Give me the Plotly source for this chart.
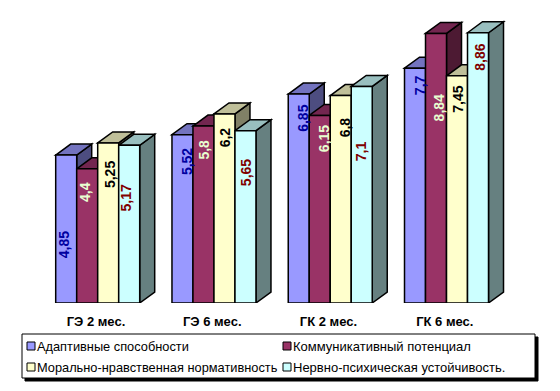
import plotly.graph_objects as go

categories = ["ГЭ 2 мес.", "ГЭ 6 мес.", "ГК 2 мес.", "ГК 6 мес."]
series_names = ["Адаптивные способности", "Коммуникативный потенциал",
                "Морально-нравственная нормативность", "Нервно-психическая устойчивость."]
adaptive = [4.85, 5.52, 6.85, 7.7]
communicative = [4.4, 5.8, 6.15, 8.84]
moral = [5.25, 6.2, 6.8, 7.45]
nervous = [5.17, 5.65, 7.1, 8.86]
label_text = [["4,85", "5,52", "6,85", "7,7"], ["4,4", "5,8", "6,15", "8,84"],
              ["5,25", "6,2", "6,8", "7,45"], ["5,17", "5,65", "7,1", "8,86"]]

series = [adaptive, communicative, moral, nervous]
front = ["#9999FF", "#993366", "#FFFFCC", "#CCFFFF"]
top = ["#7373BF", "#732650", "#BFBF99", "#99BFBF"]
side = ["#4D4D80", "#4D1A33", "#808066", "#668080"]
label_color = ["#0000A0", "#E8FFD0", "#000000", "#800000"]
# Hand-placed label offsets from the bar top centre (px), as in the original
label_drop = [[90, 27, 24, 17], [23, 23, 23, 75], [32, 23, 32, 24], [53, 42, 65, 25]]
label_nudge = [[-2, 4, 4, 5], [-2, 1, 5, 3], [2, 0, 4, 1], [-3, 0, 0, 2]]

W, H = 560, 391
L, R, T, BASE = 40, 520, 10, 303
PX_PER_UNIT = 30.5
PERIOD = 116.27
C0 = 97.7
BAR_PX = 21.0
DX_PX, DY_PX = 15.0, 11.0

x0 = (L - C0) / PERIOD
x1 = (R - C0) / PERIOD
y1 = (BASE - T) / PX_PER_UNIT
dx = DX_PX / PERIOD
dy = DY_PX / PX_PER_UNIT
bw = BAR_PX / PERIOD


def px(x):
    return (x - L) / (R - L)


def py(y):
    return (BASE - y) / (BASE - T)


fig = go.Figure()
shapes = []
annotations = []
for s, vals in enumerate(series):
    fig.add_trace(go.Bar(x=list(range(4)), y=vals, name=series_names[s],
                         marker=dict(color=front[s], line=dict(color="black", width=1.5)),
                         showlegend=False, hoverinfo="skip"))
    for i, v in enumerate(vals):
        xl = i - 2 * bw + s * bw
        xr = xl + bw
        shapes.append(dict(type="path", layer="below", xref="x", yref="y",
                           path=f"M{xr},0 L{xr + dx},{dy} L{xr + dx},{v + dy} L{xr},{v} Z",
                           fillcolor=side[s], line=dict(color="black", width=1.5)))
        shapes.append(dict(type="path", layer="below", xref="x", yref="y",
                           path=f"M{xl},{v} L{xl + dx},{v + dy} L{xr + dx},{v + dy} L{xr},{v} Z",
                           fillcolor=top[s], line=dict(color="black", width=1.5)))
        annotations.append(dict(x=xl + bw / 2, y=v, xref="x", yref="y", yshift=-label_drop[s][i],
                                xshift=label_nudge[s][i],
                                text=label_text[s][i], textangle=-90, showarrow=False,
                                font=dict(family="Liberation Sans", size=14, color=label_color[s],
                                          weight="bold")))

# Legend panel
shapes.append(dict(type="rect", xref="paper", yref="paper", x0=px(25), x1=px(538), y0=py(337), y1=py(381),
                   fillcolor="black", line=dict(color="black", width=1)))
shapes.append(dict(type="rect", xref="paper", yref="paper", x0=px(22), x1=px(535), y0=py(334), y1=py(378),
                   fillcolor="white", line=dict(color="black", width=1)))
legend_pos = [(27, 346), (283, 346), (27, 367), (283, 367)]
legend_size = [12.8, 13, 12.8, 13]
for s, (lx, ly) in enumerate(legend_pos):
    shapes.append(dict(type="rect", xref="paper", yref="paper", x0=px(lx), x1=px(lx + 8),
                       y0=py(ly - 4), y1=py(ly + 4), fillcolor=front[s], line=dict(color="black", width=1)))
    annotations.append(dict(x=px(lx + 11), y=py(ly), xref="paper", yref="paper", xanchor="left", yanchor="middle",
                            xshift=-3, text=series_names[s], showarrow=False,
                            font=dict(family="Liberation Sans", size=legend_size[s], color="black")))

fig.update_layout(
    width=W, height=H, autosize=False, paper_bgcolor="white", plot_bgcolor="white",
    margin=dict(l=L, r=W - R, t=T, b=H - BASE, pad=0),
    barmode="group", bargap=1 - 4 * bw, bargroupgap=0,
    xaxis=dict(range=[x0, x1], tickmode="array", tickvals=[i - 0.015 for i in range(4)], ticktext=categories,
               showgrid=False, zeroline=False, showline=False, ticks="outside", ticklen=6,
               tickcolor="rgba(0,0,0,0)",
               tickfont=dict(family="Liberation Sans", size=13, color="black", weight="bold")),
    yaxis=dict(range=[0, y1], visible=False),
    shapes=shapes, annotations=annotations, showlegend=False,
)
fig.write_html("out.html", config=dict(displayModeBar=False),
               post_script="document.body.style.margin='0';")
